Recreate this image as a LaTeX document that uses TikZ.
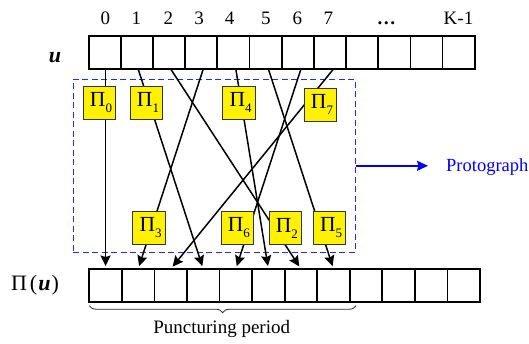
\documentclass[tikz,border=0pt]{standalone}
\usepackage{fontspec}
\setmainfont{Liberation Serif}
\usetikzlibrary{arrows.meta,decorations.pathreplacing}

% Pi symbol with a lowered index, as used in the interleaver boxes
\newcommand\pilabel[1]{\hspace{3pt}{\fontsize{21.5}{21.5}\selectfont Π}\raisebox{-6pt}{\fontsize{13}{13}\selectfont #1}}

\tikzset{
  tcell/.style={draw=black, line width=1.8pt, minimum width=32.17pt, minimum height=33pt, inner sep=0pt, outer sep=0pt},
  bcell/.style={draw=black, line width=1.8pt, minimum width=32.56pt, minimum height=32.7pt, inner sep=0pt, outer sep=0pt},
  conn/.style={line width=1.5pt, -{Stealth[length=10.5pt, width=10pt, inset=1.5pt]}, shorten >=3pt},
  pibox/.style={draw=black!80, line width=1pt, fill=yellow, minimum width=32.3pt, minimum height=33pt, inner sep=0pt},
  protobox/.style={draw=blue!85, dash pattern=on 6pt off 3.5pt, line width=1.4pt, minimum width=282pt, minimum height=173pt, inner sep=0pt},
  idx/.style={font=\fontsize{19}{19}\selectfont, anchor=base, inner sep=0pt},
  brace/.style={decorate, decoration={brace, mirror, amplitude=7pt}, line width=0.8pt, draw=black!85},
}

\begin{document}
\begin{tikzpicture}[x=1pt, y=-1pt]
  \useasboundingbox (0,0) rectangle (529,343);

  % bit positions above the input sequence
  \foreach \lab/\xx [count=\k] in {0/105.3, 1/136.3, 2/168.3, 3/199.2, 4/229.7, 5/265.8, 6/297.3, 7/328.3, \textbf{…}/386.3, K-1/458.5}
    \node[idx] (n\k) at (\xx, 24) {\lab};

  % input sequence u and its permuted version
  \foreach \i in {0,...,11} {
    \node[tcell] (t\i) at ({88.7+32.17*(\i+0.5)}, 52.5) {};
    \node[bcell] (b\i) at ({89.3+32.56*(\i+0.5)}, 285.35) {};
  }
  \node[anchor=base, inner sep=0pt, font=\fontsize{22}{22}\selectfont] (ulab) at (55, 62.7) {\textbf{\textit{u}}};
  \node[anchor=base, inner sep=0pt, font=\fontsize{22}{22}\selectfont] (pulab) at (35, 290) {Π\hspace{3pt}(\hspace{1pt}\textbf{\textit{u}}\hspace{1pt})};

  % protograph region
  \node[protobox] (proto) at (214.3, 165.8) {};
  \node[anchor=base west, inner sep=0pt, text=blue, font=\fontsize{18.5}{18.5}\selectfont] (plabel) at (446, 171) {Protograph};
  \draw[blue, line width=1.5pt, -{Stealth[length=11pt, width=10pt, inset=1.5pt]}, shorten >=18pt] (proto.east) -- (proto.east -| plabel.west);

  % connections from u to Pi(u)
  \foreach \i in {0,...,7}
    \coordinate (s\i) at (b\i |- t\i.south);
  \foreach \a/\b in {0/0, 1/3, 2/6, 3/1, 4/5, 5/7, 6/4, 7/2}
    \draw[conn] (s\a) -- (b\b.north);

  % interleaver boxes
  \node[pibox] (p0) at (99.5, 102.6) {\pilabel{0}};
  \node[pibox] (p1) at (146.5, 102.6) {\pilabel{1}};
  \node[pibox] (p4) at (239.1, 102.6) {\pilabel{4}};
  \node[pibox] (p7) at (320.5, 104.5) {\pilabel{7}};
  \node[pibox] (p3) at (149.1, 228) {\pilabel{3}};
  \node[pibox] (p6) at (237.3, 228) {\pilabel{6}};
  \node[pibox] (p2) at (285.3, 228) {\pilabel{2}};
  \node[pibox] (p5) at (329.7, 228) {\pilabel{5}};

  % puncturing period
  \draw[brace] ([yshift=-4pt]b0.south west) -- ([yshift=-4pt]b0.south west -| proto.east);
  \node[idx] (period) at (221.7, 333) {Puncturing period};
\end{tikzpicture}
\end{document}
